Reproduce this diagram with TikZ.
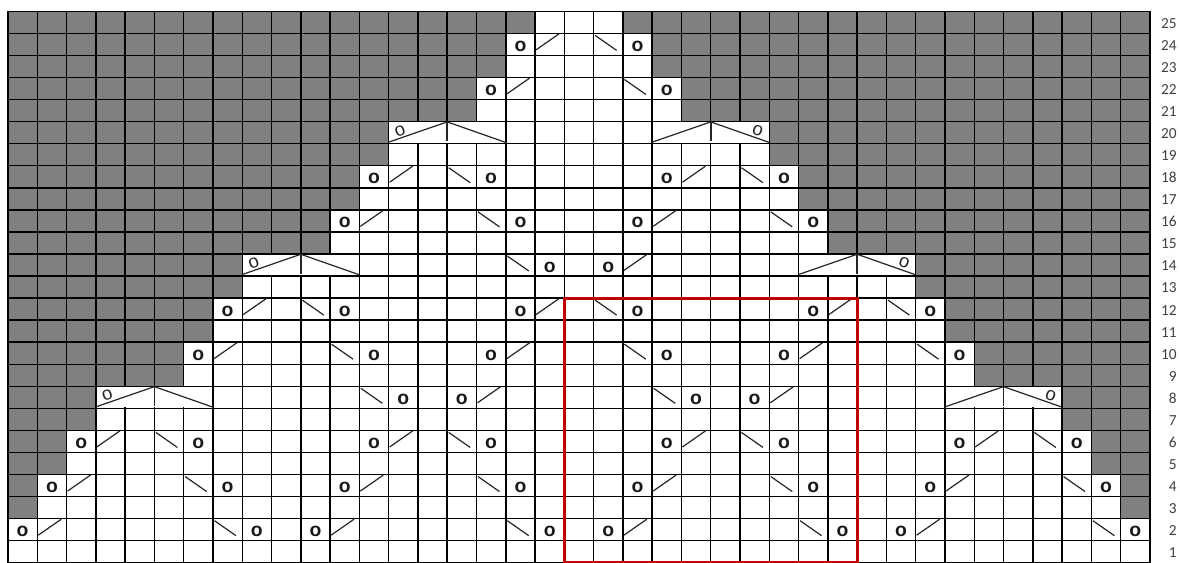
\documentclass[tikz,border=0pt]{standalone}
\usepackage{fontspec}
\newfontfamily\symfont{Liberation Sans}
\newfontfamily\labfont{Carlito}
\definecolor{chartgray}{HTML}{808080}
\definecolor{chartred}{HTML}{C00000}
\definecolor{labgray}{HTML}{404040}
\begin{document}
\begin{tikzpicture}[x=0.75pt,y=-0.75pt,
  gridline/.style={line width=1.1pt,black},
  knitline/.style={line width=0.9pt,black!85},
  ticklinestyle/.style={line width=1.2pt,black!85},
  yo/.style={font=\symfont\bfseries\fontsize{14.5}{14.5}\selectfont,inner sep=0pt,text=black!90},
  smallyo/.style={font=\symfont\fontsize{14}{14}\selectfont,inner sep=0pt,text=black!85},
  lab/.style={font=\labfont\fontsize{11.5}{11.5}\selectfont,text=labgray,inner sep=0pt,anchor=east},
  redframe/.style={draw=chartred,line width=2.3pt}]
\useasboundingbox (0,0) rectangle (1180,563);
\fill[white] (0,0) rectangle (1180,563);
% grey (unused) cells
\foreach \r/\L in {3/2,4/2,5/3,6/3,7/4,8/4,9/7,10/7,11/8,12/8,13/9,14/9,15/12,16/12,17/13,18/13,19/14,20/14,21/17,22/17,23/18,24/18,25/19}{
  \fill[chartgray] (8,{11.3+(25-\r)*22.06}) rectangle ({8+(\L-1)*29.28},{11.3+(26-\r)*22.06});
  \fill[chartgray] ({8+(40-\L)*29.28},{11.3+(25-\r)*22.06}) rectangle (1149.92,{11.3+(26-\r)*22.06});
}
% grid
\foreach \i in {0,...,39}
  \draw[gridline] ({8+\i*29.28},11.3) -- ({8+\i*29.28},562.8);
\foreach \j in {0,...,25}
  \draw[gridline] (7.5,{11.3+\j*22.06}) -- (1150.4,{11.3+\j*22.06});
% merged cells of the double decreases
\foreach \r/\a in {8/3,8/32,14/8,14/27,20/13,20/22}{
  \fill[white] ({8+\a*29.28+0.9},{11.3+(25-\r)*22.06+0.9}) rectangle ({8+(\a+4)*29.28-0.9},{11.3+(26-\r)*22.06-0.9});
  \draw[knitline] ({8+\a*29.28},{11.3+(26-\r)*22.06-1.5}) -- ({8+(\a+2)*29.28},{11.3+(25-\r)*22.06+0.3}) -- ({8+(\a+4)*29.28},{11.3+(26-\r)*22.06-1.2});
  \draw[ticklinestyle] ({8+(\a+2)*29.28},{11.3+(25-\r)*22.06}) -- ({8+(\a+2)*29.28},{11.3+(26-\r)*22.06-2.5});
}
\foreach \r/\a in {8/3,14/8,20/13}
  \node[smallyo,rotate=20] (so\a-\r) at ({8+\a*29.28+11.5},{11.3+(25-\r)*22.06+9}) {o};
\foreach \r/\a in {8/32,14/27,20/22}
  \node[smallyo,rotate=-20] (so\a-\r) at ({8+(\a+4)*29.28-11.5},{11.3+(25-\r)*22.06+9}) {o};
% yarn overs
\foreach \c/\r in {1/2,9/2,11/2,19/2,21/2,29/2,31/2,39/2,
  2/4,8/4,12/4,18/4,22/4,28/4,32/4,38/4,
  3/6,7/6,13/6,17/6,23/6,27/6,33/6,37/6,
  14/8,16/8,24/8,26/8,
  7/10,13/10,17/10,23/10,27/10,33/10,
  8/12,12/12,18/12,22/12,28/12,32/12,
  19/14,21/14,
  12/16,18/16,22/16,28/16,
  13/18,17/18,23/18,27/18,
  17/22,23/22,
  18/24,22/24}
  \node[yo] (o\c-\r) at ({8+(\c-0.5)*29.28},{11.3+(25.5-\r)*22.06+2}) {o};
% right-leaning decreases
\foreach \c/\r in {2/2,12/2,22/2,32/2,3/4,13/4,23/4,33/4,4/6,14/6,24/6,34/6,17/8,27/8,8/10,18/10,28/10,9/12,19/12,29/12,22/14,13/16,23/16,14/18,24/18,18/22,19/24}
  \draw[knitline] ({8+(\c-1)*29.28+1},{11.3+(25-\r)*22.06+16.5}) -- ++(23,-16);
% left-leaning decreases
\foreach \c/\r in {8/2,18/2,28/2,38/2,7/4,17/4,27/4,37/4,6/6,16/6,26/6,36/6,13/8,23/8,12/10,22/10,32/10,11/12,21/12,31/12,18/14,17/16,27/16,16/18,26/18,22/22,21/24}
  \draw[knitline] ({8+(\c-1)*29.28+1.5},{11.3+(25-\r)*22.06+2}) -- ++(21.5,15);
% repeat frame
\draw[redframe] ({8+19*29.28},{11.3+13*22.06}) rectangle ({8+29*29.28},562.8);
% row numbers
\foreach \r in {1,...,25}
  \node[lab] (row\r) at (1177,{11.3+(25.5-\r)*22.06+1}) {\r};
\end{tikzpicture}
\end{document}
